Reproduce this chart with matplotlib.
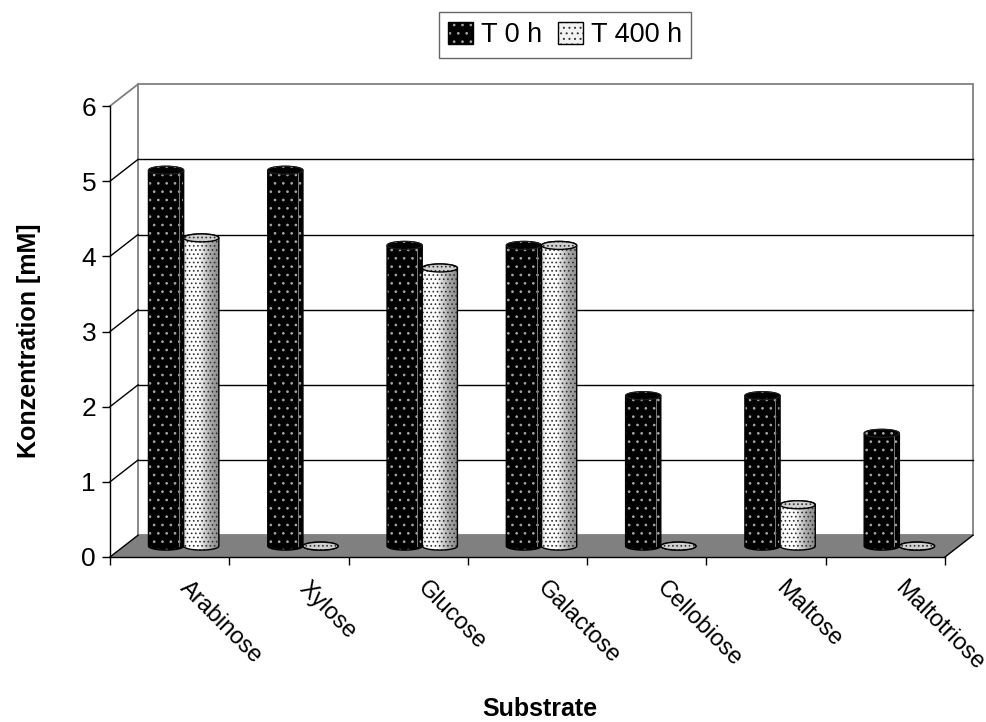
import numpy as np
import matplotlib
matplotlib.use("Agg")
import matplotlib.pyplot as plt
from matplotlib.path import Path
from matplotlib.patches import PathPatch, Ellipse, Polygon, Patch
from matplotlib.colors import LinearSegmentedColormap
import matplotlib.transforms as mtransforms

# ---- data ----
substrates = ["Arabinose", "Xylose", "Glucose", "Galactose",
              "Cellobiose", "Maltose", "Maltotriose"]
t0_values = [5.0, 5.0, 4.0, 4.0, 2.0, 2.0, 1.5]
t400_values = [4.1, 0.0, 3.7, 4.0, 0.0, 0.55, 0.0]
series_labels = ["T 0 h", "T 400 h"]
y_ticks = [0, 1, 2, 3, 4, 5, 6]
y_max = 6

plt.rcParams['font.family'] = ['Liberation Sans', 'DejaVu Sans']
plt.rcParams['hatch.linewidth'] = 0.7

fig = plt.figure(figsize=(9.87, 7.22), dpi=100)
ax = fig.add_axes([110 / 987, (722 - 557) / 722, 835 / 987, 451 / 722])
ax.patch.set_visible(False)
n = len(substrates)

# depth of the pseudo-3D box, in data units
DX, DY = 0.235, 0.29
# cylinder geometry
BAR_W = 0.295
BAR_START = 0.205
EB = 0.053  # half height of the elliptical caps

# back wall
ax.add_patch(Polygon([(DX, DY), (n + DX, DY), (n + DX, y_max + DY), (DX, y_max + DY)],
                     closed=True, facecolor='white', edgecolor='#808080', lw=1.3,
                     zorder=1, clip_on=False))
for v in y_ticks[1:-1]:
    ax.plot([DX, n + DX], [v + DY, v + DY], color='black', lw=1.0, zorder=1.5, clip_on=False)
    ax.plot([0, DX], [v, v + DY], color='black', lw=1.0, zorder=1.5, clip_on=False)
ax.plot([0, DX], [y_max, y_max + DY], color='#808080', lw=1.3, zorder=1.5, clip_on=False)

# floor
ax.add_patch(Polygon([(0, 0), (n, 0), (n + DX, DY), (DX, DY)], closed=True,
                     facecolor='#808080', edgecolor='none', zorder=2, clip_on=False))
ax.plot([n, n + DX], [0, DY], color='black', lw=1.0, zorder=2.1, clip_on=False)
ax.plot([0, DX], [0, DY], color='black', lw=1.0, zorder=2.1, clip_on=False)


def cylinder_path(x0, x1, y0, y1, eb):
    xc = (x0 + x1) / 2
    a = (x1 - x0) / 2
    t_top = np.linspace(np.pi, 0, 60)
    top = np.column_stack([xc + a * np.cos(t_top), y1 + eb * np.sin(t_top)])
    t_bot = np.linspace(0, -np.pi, 60)
    bot = np.column_stack([xc + a * np.cos(t_bot), y0 + eb * np.sin(t_bot)])
    verts = np.vstack([top, bot, top[:1]])
    return Path(verts, closed=True)


light_cmap = LinearSegmentedColormap.from_list(
    "light", [(0.0, "#d4d4d4"), (0.1, "#ffffff"), (0.4, "#ffffff"),
              (0.75, "#a8a8a8"), (1.0, "#8a8a8a")])
gradient = np.linspace(0, 1, 256).reshape(1, -1)

z = 3.0
base = DY / 2
for i in range(n):
    for s, vals in enumerate([t0_values, t400_values]):
        val = vals[i]
        x0 = i + BAR_START + s * BAR_W + DX / 2
        x1 = x0 + BAR_W
        y0, y1 = base, base + val
        xc = (x0 + x1) / 2
        path = cylinder_path(x0, x1, y0, y1, EB)
        if s == 0:
            body = PathPatch(path, facecolor='black', edgecolor='#a8a8a8', hatch='..',
                             lw=0, zorder=z)
            ax.add_patch(body)
            ax.plot([x0 + 0.86 * BAR_W] * 2, [y0, y1], color='#7a7a7a', lw=0.7, zorder=z + 0.01)
            ax.add_patch(PathPatch(path, facecolor='none', edgecolor='black', lw=1.0, zorder=z + 0.02))
            ax.add_patch(Ellipse((xc, y1), x1 - x0, 2 * EB, facecolor='black',
                                 edgecolor='#a8a8a8', hatch='..', lw=0, zorder=z + 0.03))
            ax.add_patch(Ellipse((xc, y1), x1 - x0, 2 * EB, facecolor='none',
                                 edgecolor='#202020', lw=0.8, zorder=z + 0.04))
        else:
            clip = PathPatch(path, facecolor='none', edgecolor='none', zorder=z)
            ax.add_patch(clip)
            im = ax.imshow(gradient, cmap=light_cmap, aspect='auto',
                           extent=[x0, x1, y0 - EB, y1 + EB], zorder=z, interpolation='bilinear')
            im.set_clip_path(clip)
            ax.add_patch(PathPatch(path, facecolor='none', edgecolor='#303030', hatch='....',
                                   lw=0, zorder=z + 0.01))
            ax.add_patch(PathPatch(path, facecolor='none', edgecolor='black', lw=1.0, zorder=z + 0.02))
            ax.add_patch(Ellipse((xc, y1), x1 - x0, 2 * EB, facecolor='#d0d0d0',
                                 edgecolor='#303030', hatch='....', lw=0, zorder=z + 0.03))
            ax.add_patch(Ellipse((xc, y1), x1 - x0, 2 * EB, facecolor='none',
                                 edgecolor='black', lw=1.0, zorder=z + 0.04))
        z += 0.1

ax.set_xlim(0, n)
ax.set_ylim(0, y_max)

# axes, ticks and labels
for side in ['top', 'right']:
    ax.spines[side].set_visible(False)
for side in ['left', 'bottom']:
    ax.spines[side].set_color('black')
    ax.spines[side].set_linewidth(1.0)
    ax.spines[side].set_zorder(2.5)

ax.set_yticks(y_ticks)
ax.set_yticklabels([str(v) for v in y_ticks])
ax.tick_params(axis='y', direction='out', length=6, width=1.0, labelsize=19, pad=4)
ax.set_xticks(range(n + 1))
ax.set_xticklabels([])
ax.tick_params(axis='x', direction='out', length=6, width=1.0)

offset = mtransforms.ScaledTranslation(0.09, -0.32, fig.dpi_scale_trans)
for i, name in enumerate(substrates):
    ax.text(i + 0.5, 0, name, rotation=-45, rotation_mode='anchor', ha='left',
            va='baseline', fontsize=17, transform=ax.transData + offset)

ax.set_ylabel("Konzentration [mM]", fontsize=18, fontweight='bold')
ax.yaxis.set_label_coords(-0.083, 0.48)
ax.text(0.515, -0.338, "Substrate", transform=ax.transAxes, ha='center', va='center',
        fontsize=18, fontweight='bold')

# legend
h0 = (Patch(facecolor='black', edgecolor='#a8a8a8', hatch='..', lw=0),
      Patch(facecolor='none', edgecolor='black', lw=1.0))
h1 = (Patch(facecolor='#f2f2f2', edgecolor='#303030', hatch='...', lw=0),
      Patch(facecolor='none', edgecolor='black', lw=1.0))
leg = fig.legend([h0, h1], series_labels, loc='center',
                 bbox_to_anchor=(565 / 987, 1 - 35 / 722), ncol=2, frameon=True,
                 fancybox=False, edgecolor='#404040', fontsize=19.5,
                 handlelength=0.9, handleheight=0.9, handletextpad=0.3,
                 columnspacing=0.6, borderpad=0.35, borderaxespad=0)
leg.get_frame().set_linewidth(1.0)

fig.savefig("out.png", dpi=100)
